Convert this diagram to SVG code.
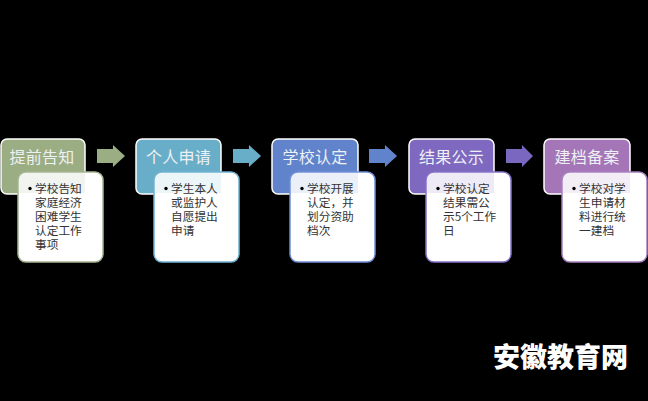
<svg xmlns="http://www.w3.org/2000/svg" width="648" height="401" viewBox="0 0 648 401">
<style>
text{font-family:"Noto Sans CJK SC","Noto Sans",sans-serif}
.h{fill:#eef1f4;font-size:16px;text-anchor:middle;letter-spacing:0.2px}
.b{fill:#333;font-size:11.7px}
.box{stroke:#fff;stroke-width:1.5}
.card{fill:#fff;stroke-width:1.5}
.tint{fill-opacity:.13}
</style>
<rect width="648" height="401" fill="#000"/>
<g id="connectors">
<path id="a1" d="M97 149H113V145L125 156L113 167V163H97Z" fill="#9bad83"/>
<path id="a2" d="M233 149H249V145L261 156L249 167V163H233Z" fill="#69aec8"/>
<path id="a3" d="M369 149H385V145L397 156L385 167V163H369Z" fill="#6083cb"/>
<path id="a4" d="M506 149H522V145L533 156L522 167V163H506Z" fill="#7a68c0"/>
</g>
<g id="n1">
<rect class="box" x="1" y="139" width="84" height="55" rx="6" fill="#9bad83"/>
<text class="h" x="42" y="163">提前告知</text>
<rect class="card" x="18" y="172" width="85" height="90" rx="8" stroke="#a5b592"/>
<path class="tint" d="M19 193V180Q19 173 26 173H85V193Z" fill="#9bad83"/>
<circle cx="30" cy="188.500" r="1.700"/>
<text class="b" x="35" y="193">学校告知</text>
<text class="b" x="35" y="207">家庭经济</text>
<text class="b" x="35" y="221">困难学生</text>
<text class="b" x="35" y="235">认定工作</text>
<text class="b" x="35" y="249">事项</text>
</g>
<g id="n2">
<rect class="box" x="136" y="139" width="85" height="55" rx="6" fill="#69aec8"/>
<text class="h" x="178.500" y="163">个人申请</text>
<rect class="card" x="154" y="172" width="85" height="90" rx="8" stroke="#6fb3cf"/>
<path class="tint" d="M155 193V180Q155 173 162 173H221V193Z" fill="#69aec8"/>
<circle cx="166" cy="188.500" r="1.700"/>
<text class="b" x="171" y="193">学生本人</text>
<text class="b" x="171" y="207">或监护人</text>
<text class="b" x="171" y="221">自愿提出</text>
<text class="b" x="171" y="235">申请</text>
</g>
<g id="n3">
<rect class="box" x="272" y="139" width="86" height="55" rx="6" fill="#6083cb"/>
<text class="h" x="315" y="163">学校认定</text>
<rect class="card" x="290" y="172" width="85" height="90" rx="8" stroke="#6f8fd6"/>
<path class="tint" d="M291 193V180Q291 173 298 173H358V193Z" fill="#6083cb"/>
<circle cx="302" cy="188.500" r="1.700"/>
<text class="b" x="307" y="193">学校开展</text>
<text class="b" x="307" y="207">认定，并</text>
<text class="b" x="307" y="221">划分资助</text>
<text class="b" x="307" y="235">档次</text>
</g>
<g id="n4">
<rect class="box" x="409" y="139" width="85" height="55" rx="6" fill="#7e68c0"/>
<text class="h" x="451.500" y="163">结果公示</text>
<rect class="card" x="426" y="172" width="85" height="90" rx="8" stroke="#8571c8"/>
<path class="tint" d="M427 193V180Q427 173 434 173H494V193Z" fill="#7e68c0"/>
<circle cx="438" cy="188.500" r="1.700"/>
<text class="b" x="443" y="193">学校认定</text>
<text class="b" x="443" y="207">结果需公</text>
<text class="b" x="443" y="221">示5个工作</text>
<text class="b" x="443" y="235">日</text>
</g>
<g id="n5">
<rect class="box" x="544" y="139" width="86" height="55" rx="6" fill="#a476b8"/>
<text class="h" x="587" y="163">建档备案</text>
<rect class="card" x="562" y="172" width="85" height="90" rx="8" stroke="#a67fc0"/>
<path class="tint" d="M563 193V180Q563 173 570 173H630V193Z" fill="#a476b8"/>
<circle cx="574" cy="188.500" r="1.700"/>
<text class="b" x="579" y="193">学校对学</text>
<text class="b" x="579" y="207">生申请材</text>
<text class="b" x="579" y="221">料进行统</text>
<text class="b" x="579" y="235">一建档</text>
</g>
<text x="493" y="367" font-size="27" font-weight="900" fill="#fff" textLength="135" lengthAdjust="spacing">安徽教育网</text>
</svg>
